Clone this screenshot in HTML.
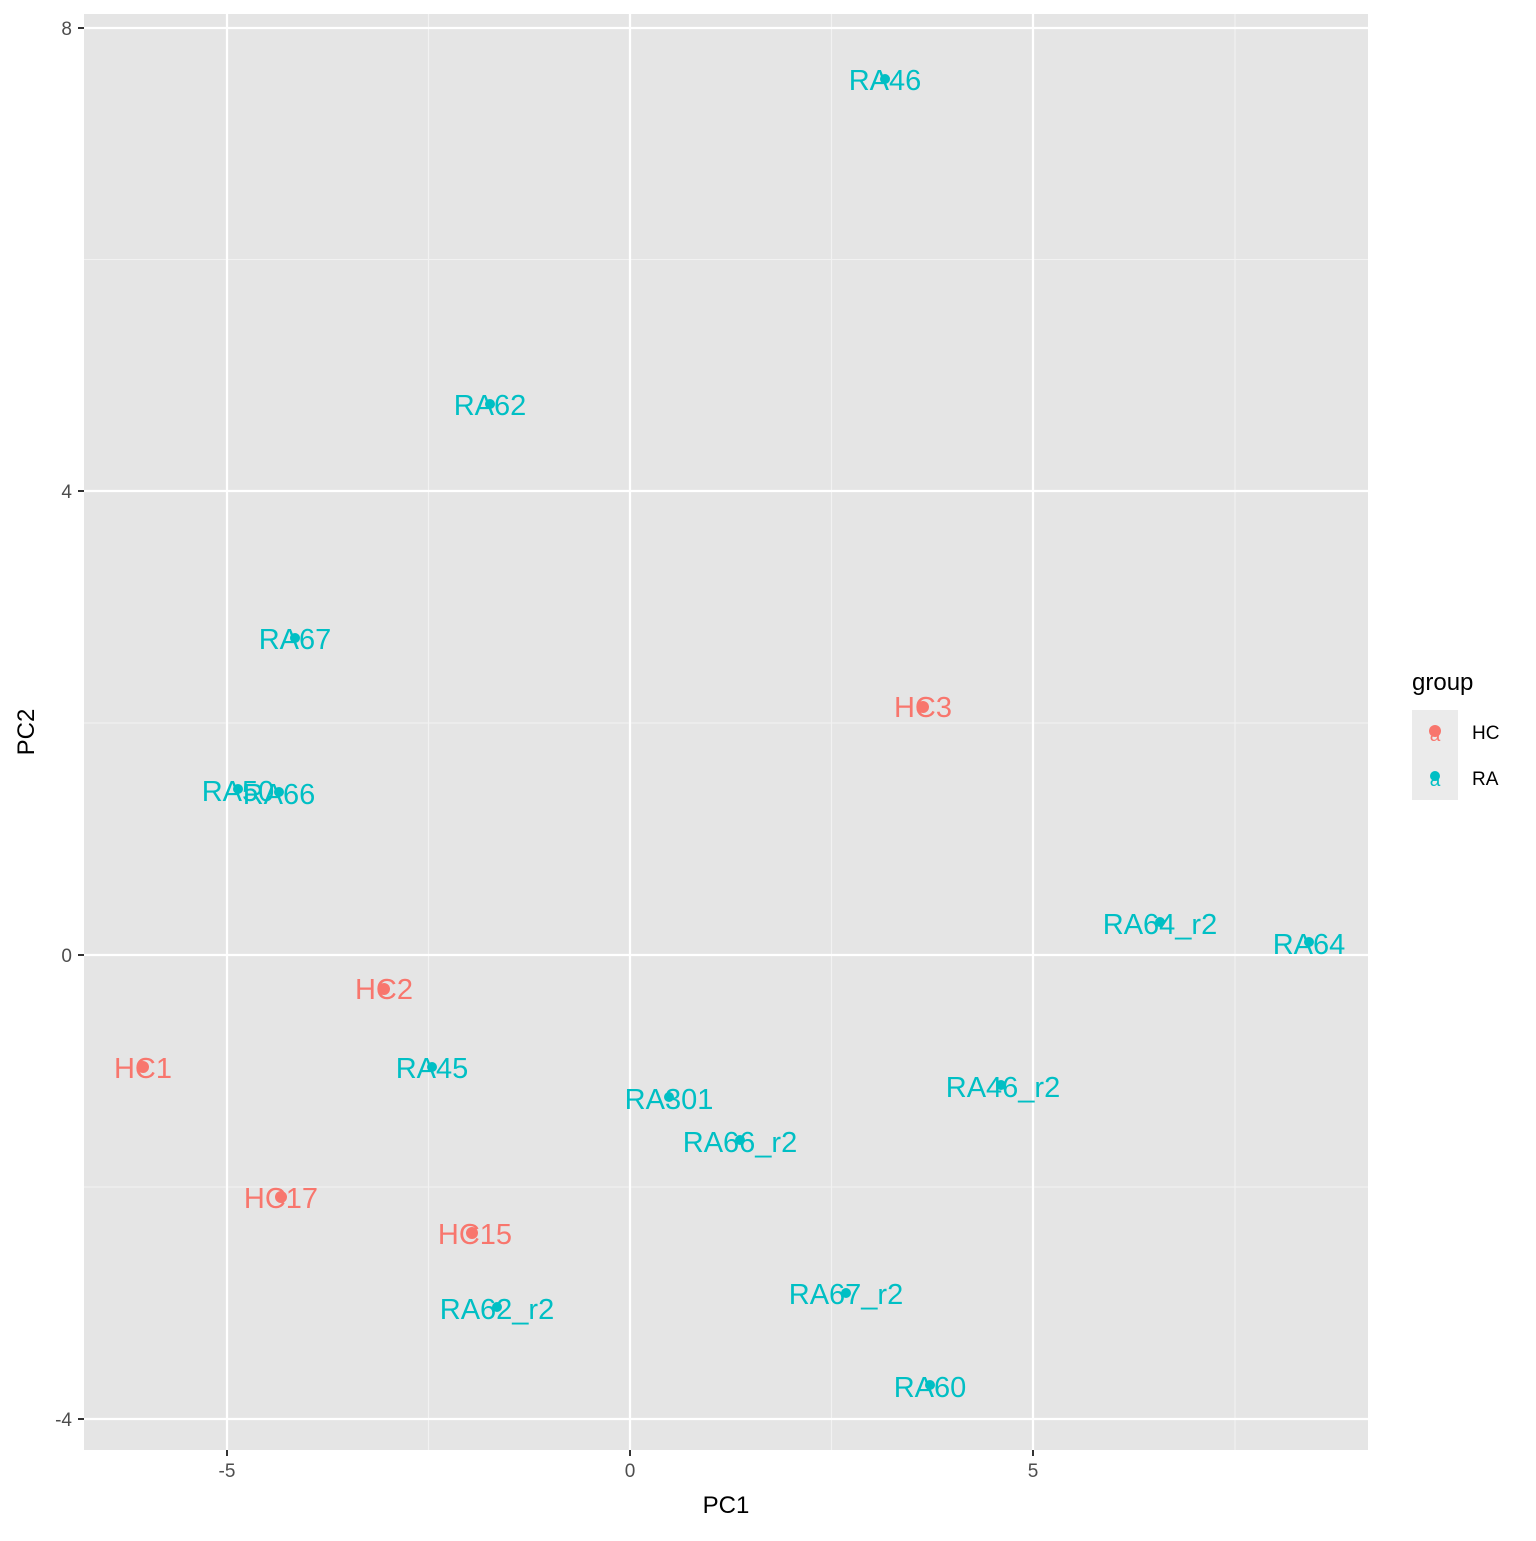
<!DOCTYPE html>
<html><head><meta charset="utf-8"><style>
body{margin:0;background:#fff}
svg text{font-family:"Liberation Sans",Arial,sans-serif}
</style></head><body>
<svg width="1536" height="1536" viewBox="0 0 1536 1536" xmlns="http://www.w3.org/2000/svg">
<rect width="1536" height="1536" fill="#fff"/>
<rect x="84" y="14" width="1284" height="1436" fill="#e5e5e5"/>
<g stroke="#f2f2f2" stroke-width="1.1">
<line x1="428.5" y1="14" x2="428.5" y2="1450"/><line x1="831.5" y1="14" x2="831.5" y2="1450"/><line x1="1235" y1="14" x2="1235" y2="1450"/>
<line x1="84" y1="259.5" x2="1368" y2="259.5"/><line x1="84" y1="723" x2="1368" y2="723"/><line x1="84" y1="1187" x2="1368" y2="1187"/>
</g>
<g stroke="#fff" stroke-width="2.2">
<line x1="227" y1="14" x2="227" y2="1450"/><line x1="630" y1="14" x2="630" y2="1450"/><line x1="1033" y1="14" x2="1033" y2="1450"/>
<line x1="84" y1="28" x2="1368" y2="28"/><line x1="84" y1="491" x2="1368" y2="491"/><line x1="84" y1="955" x2="1368" y2="955"/><line x1="84" y1="1419" x2="1368" y2="1419"/>
</g>
<g stroke="#333" stroke-width="2">
<line x1="78" y1="28" x2="84" y2="28"/><line x1="78" y1="491" x2="84" y2="491"/><line x1="78" y1="955" x2="84" y2="955"/><line x1="78" y1="1419" x2="84" y2="1419"/>
<line x1="227" y1="1450" x2="227" y2="1456"/><line x1="630" y1="1450" x2="630" y2="1456"/><line x1="1033" y1="1450" x2="1033" y2="1456"/>
</g>
<g font-size="19" fill="#4d4d4d" text-anchor="end">
<text x="72" y="35">8</text><text x="72" y="498">4</text><text x="72" y="962">0</text><text x="72" y="1426">-4</text>
</g>
<g font-size="19" fill="#4d4d4d" text-anchor="middle">
<text x="227" y="1477">-5</text><text x="630" y="1477">0</text><text x="1033" y="1477">5</text>
</g>
<text x="726" y="1513" font-size="24" text-anchor="middle" fill="#000">PC1</text>
<text transform="translate(34,732) rotate(-90)" font-size="24" text-anchor="middle" fill="#000">PC2</text>
<g fill="#F8766D">
<circle cx="923" cy="707" r="6"/><circle cx="384" cy="989" r="6"/><circle cx="143" cy="1067" r="6"/><circle cx="281" cy="1197" r="6"/><circle cx="472" cy="1233" r="6"/>
</g>
<g fill="#00BFC4">
<circle cx="885" cy="79" r="5"/><circle cx="490" cy="404" r="5"/><circle cx="295" cy="638" r="5"/><circle cx="238" cy="789" r="5"/><circle cx="279" cy="792" r="5"/><circle cx="1160" cy="922" r="5"/><circle cx="1309" cy="942" r="5"/><circle cx="432" cy="1067" r="5"/><circle cx="669" cy="1097" r="5"/><circle cx="1001" cy="1085" r="5"/><circle cx="740" cy="1140" r="5"/><circle cx="846" cy="1293" r="5"/><circle cx="497" cy="1307" r="5"/><circle cx="930" cy="1385" r="5"/>
</g>
<g font-size="29" text-anchor="middle" fill="#F8766D">
<text x="923" y="717">HC3</text><text x="384" y="999">HC2</text><text x="143" y="1078">HC1</text><text x="281" y="1208">HC17</text><text x="475" y="1244">HC15</text>
</g>
<g font-size="29" text-anchor="middle" fill="#00BFC4">
<text x="885" y="90">RA46</text><text x="490" y="415">RA62</text><text x="295" y="649">RA67</text><text x="238" y="801">RA50</text><text x="279" y="804">RA66</text><text x="1160" y="934">RA64_r2</text><text x="1309" y="954">RA64</text><text x="432" y="1078">RA45</text><text x="669" y="1109">RA301</text><text x="1003" y="1097">RA46_r2</text><text x="740" y="1152">RA66_r2</text><text x="846" y="1304">RA67_r2</text><text x="497" y="1319">RA62_r2</text><text x="930" y="1397">RA60</text>
</g>
<text x="1412" y="690" font-size="24" fill="#000">group</text>
<rect x="1412" y="710" width="46" height="45" fill="#ebebeb"/>
<rect x="1412" y="755" width="46" height="45" fill="#ebebeb"/>
<circle cx="1435" cy="731" r="6" fill="#F8766D"/>
<text x="1435" y="741" font-size="19" text-anchor="middle" fill="#F8766D">a</text>
<circle cx="1435" cy="776" r="5" fill="#00BFC4"/>
<text x="1435" y="786" font-size="19" text-anchor="middle" fill="#00BFC4">a</text>
<text x="1472" y="739" font-size="19" fill="#000">HC</text>
<text x="1472" y="785" font-size="19" fill="#000">RA</text>
</svg>
</body></html>
